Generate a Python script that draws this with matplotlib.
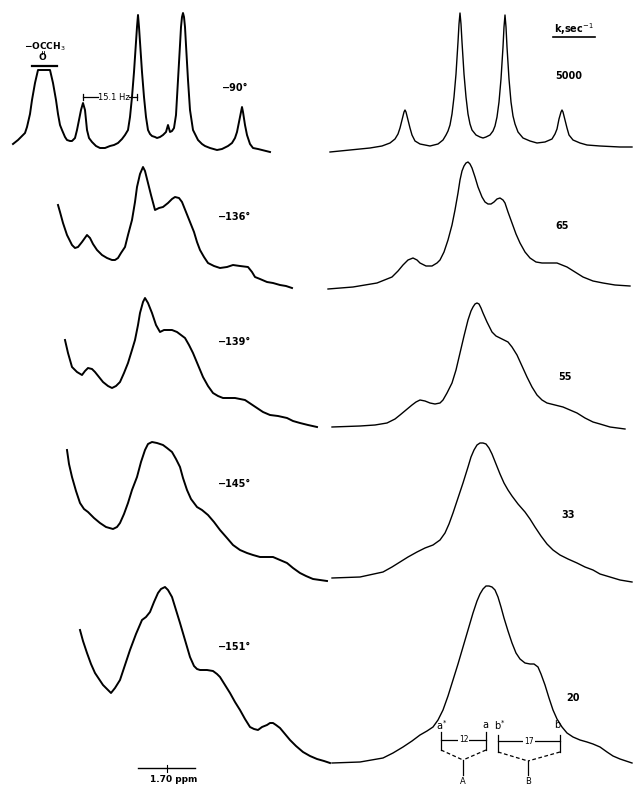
import matplotlib
matplotlib.use('Agg')
import matplotlib.pyplot as plt

# row labels: observed temperatures (left) and fitted rate constants (right)
temps = ['−90°', '−136°', '−139°', '−145°', '−151°']
rates = ['5000', '65', '55', '33', '20']

# observed spectra, left column: x position and height above trace baseline
obs90_x = [13, 18, 22, 25, 27, 30, 32, 35, 38, 50, 53, 56, 58, 60, 62, 65, 67, 70, 72, 75,
           77, 79, 81, 83, 85, 86, 87, 89, 92, 96, 100, 105, 110, 114, 118, 122, 125, 128, 130, 132,
           134, 136, 137, 138, 139, 140, 142, 144, 146, 148, 150, 152, 155, 157, 160, 163, 166, 168, 170, 172,
           174, 176, 178, 180, 181, 182, 183, 184, 185, 186, 188, 190, 193, 196, 198, 202, 205, 210, 217, 222,
           228, 232, 235, 237, 239, 241, 242, 243, 245, 247, 250, 253, 258, 262, 266, 270]
obs90_h = [8, 12, 16, 19, 25, 38, 52, 69, 82, 82, 69, 52, 38, 27, 22, 15, 12, 11, 11, 14,
           22, 32, 42, 49, 42, 32, 22, 14, 10, 6, 4, 4, 6, 7, 9, 13, 17, 22, 35, 55,
           80, 110, 125, 137, 125, 110, 80, 55, 35, 22, 18, 16, 15, 14, 15, 17, 20, 27, 20, 21,
           24, 37, 72, 107, 125, 135, 139, 135, 125, 107, 72, 42, 22, 16, 12, 8, 6, 4, 2, 3,
           6, 9, 14, 20, 30, 40, 45, 40, 27, 17, 8, 4, 3, 2, 1, 0]

obs136_x = [58, 60, 63, 67, 72, 75, 78, 82, 87, 90, 93, 97, 102, 107, 112, 115, 118, 121, 125, 128,
            132, 135, 137, 140, 143, 145, 148, 151, 155, 159, 163, 168, 172, 175, 179, 182, 186, 190, 194, 197,
            200, 204, 208, 214, 220, 227, 233, 240, 248, 252, 255, 260, 267, 273, 280, 286, 292]
obs136_h = [85, 78, 67, 55, 45, 42, 43, 48, 55, 52, 46, 40, 35, 32, 30, 30, 32, 37, 43, 55,
            70, 88, 103, 116, 123, 119, 107, 95, 80, 82, 83, 87, 91, 93, 92, 88, 78, 68, 58, 48,
            40, 33, 27, 24, 22, 23, 25, 24, 23, 18, 13, 11, 8, 7, 5, 4, 2]

obs139_x = [65, 68, 72, 77, 82, 85, 88, 92, 95, 99, 103, 108, 112, 116, 120, 124, 128, 132, 135, 138,
            140, 143, 145, 148, 152, 156, 160, 164, 168, 172, 177, 181, 185, 189, 193, 198, 203, 208, 213, 218,
            223, 229, 235, 240, 245, 251, 257, 263, 270, 278, 287, 293, 300, 308, 317]
obs139_h = [90, 77, 63, 58, 55, 59, 62, 61, 58, 53, 48, 44, 42, 44, 48, 57, 67, 80, 90, 105,
            117, 128, 132, 127, 117, 105, 98, 100, 100, 100, 98, 95, 92, 85, 77, 65, 53, 44, 37, 34,
            32, 32, 32, 31, 30, 26, 22, 18, 15, 14, 12, 9, 7, 5, 3]

obs145_x = [67, 69, 72, 76, 80, 84, 88, 94, 100, 106, 113, 117, 120, 124, 128, 132, 137, 141, 145, 148,
            152, 157, 163, 167, 172, 176, 180, 183, 187, 191, 197, 202, 208, 214, 220, 227, 233, 240, 247, 253,
            260, 267, 273, 280, 287, 293, 300, 306, 313, 320, 327]
obs145_h = [132, 118, 105, 91, 79, 73, 70, 64, 59, 55, 53, 55, 59, 68, 79, 92, 105, 120, 132, 138,
            140, 139, 137, 134, 130, 123, 115, 104, 92, 83, 75, 72, 67, 60, 52, 44, 37, 32, 29, 27,
            25, 25, 25, 22, 19, 14, 9, 6, 3, 2, 1]

obs151_x = [80, 83, 87, 91, 95, 99, 103, 107, 111, 115, 120, 125, 130, 136, 142, 146, 150, 154, 158, 161,
            165, 168, 172, 176, 180, 185, 190, 194, 197, 200, 203, 207, 213, 217, 220, 225, 230, 235, 240, 245,
            250, 254, 258, 262, 267, 270, 273, 276, 280, 285, 290, 296, 303, 310, 317, 324, 330]
obs151_h = [135, 124, 112, 101, 92, 86, 80, 76, 72, 77, 85, 100, 115, 131, 145, 148, 153, 163, 172, 176,
            178, 175, 168, 155, 142, 125, 108, 99, 96, 95, 95, 95, 94, 91, 88, 80, 72, 63, 55, 46,
            38, 36, 35, 38, 40, 42, 42, 40, 37, 31, 25, 19, 13, 9, 6, 4, 2]

# calculated spectra, right column
k5000_x = [330, 350, 370, 382, 390, 395, 398, 400, 402, 404, 405, 406, 408, 410, 412, 415, 420,
           430, 438, 443, 446, 448, 450, 452, 454, 456, 458, 459, 460, 461, 462, 464, 466, 468,
           470, 472, 476, 480, 483, 486, 490, 493, 495, 497, 499, 501, 503, 504, 505, 506, 507,
           509, 511, 513, 515, 518, 523, 530, 537, 545, 552, 555, 557, 559, 561, 562, 563, 565,
           567, 569, 573, 580, 587, 600, 620, 632]
k5000_h = [0, 2, 4, 6, 9, 13, 18, 24, 32, 40, 42, 40, 32, 24, 17, 11, 8,
           6, 8, 12, 17, 21, 27, 38, 55, 78, 110, 128, 139, 128, 110, 78, 55, 38,
           28, 22, 17, 15, 14, 15, 17, 21, 26, 35, 50, 73, 105, 125, 137, 125, 105,
           73, 50, 36, 28, 20, 14, 11, 9, 10, 13, 18, 23, 33, 40, 42, 40, 32,
           24, 17, 12, 9, 7, 6, 5, 5]

k65_x = [328, 353, 377, 392, 398, 403, 408, 413, 417, 420, 426, 432, 437, 440, 444, 448, 452,
         455, 458, 460, 462, 464, 466, 468, 470, 472, 475, 478, 482, 485, 488, 491, 494, 497,
         500, 503, 505, 508, 512, 516, 520, 525, 530, 536, 542, 550, 557, 562, 567, 575, 583,
         593, 603, 615, 630]
k65_h = [1, 3, 7, 13, 19, 25, 30, 32, 30, 27, 24, 24, 27, 30, 38, 50, 65,
         80, 97, 110, 119, 124, 127, 128, 126, 122, 113, 103, 93, 88, 86, 86, 88, 91,
         92, 90, 87, 78, 67, 56, 47, 38, 32, 28, 27, 27, 27, 25, 23, 18, 13,
         9, 7, 5, 4]

k55_x = [332, 360, 375, 387, 395, 400, 406, 412, 416, 420, 425, 430, 435, 440, 443, 447, 452,
         456, 460, 464, 468, 471, 473, 475, 477, 479, 481, 483, 487, 492, 496, 500, 504, 508,
         512, 517, 522, 527, 532, 537, 542, 547, 555, 563, 570, 577, 585, 593, 600, 610, 625]
k55_h = [3, 4, 5, 7, 11, 15, 20, 25, 28, 30, 29, 27, 26, 27, 30, 37, 47,
         60, 77, 94, 110, 119, 123, 126, 127, 126, 122, 117, 108, 98, 94, 92, 90, 88,
         83, 75, 64, 53, 43, 35, 30, 27, 25, 23, 20, 17, 12, 8, 6, 3, 1]

k33_x = [332, 360, 383, 392, 400, 408, 417, 425, 433, 440, 445, 449, 453, 458, 463, 468, 471,
         474, 477, 480, 483, 486, 489, 492, 496, 500, 504, 508, 512, 518, 525, 530, 535, 541,
         547, 553, 560, 568, 577, 585, 593, 600, 610, 620, 632]
k33_h = [4, 5, 10, 15, 20, 25, 30, 34, 37, 42, 49, 58, 69, 84, 99, 115, 125,
         132, 137, 139, 139, 138, 134, 128, 118, 108, 99, 92, 86, 78, 70, 63, 55, 46,
         38, 32, 27, 23, 19, 15, 12, 8, 5, 2, 0]

k20_x = [332, 360, 383, 393, 403, 412, 420, 427, 433, 438, 443, 448, 453, 458, 463, 468, 473,
         477, 480, 483, 486, 489, 492, 495, 498, 501, 504, 508, 512, 516, 520, 525, 530, 534,
         538, 541, 545, 549, 553, 557, 562, 567, 573, 580, 587, 593, 600, 607, 613, 620, 632]
k20_h = [2, 3, 7, 12, 18, 24, 30, 34, 38, 45, 55, 69, 85, 101, 118, 135, 152,
         164, 171, 176, 179, 179, 178, 175, 168, 158, 147, 134, 122, 112, 106, 102, 101, 101,
         98, 91, 80, 67, 55, 46, 38, 32, 28, 25, 23, 21, 18, 13, 9, 6, 2]

obs = [(obs90_x, obs90_h), (obs136_x, obs136_h), (obs139_x, obs139_h),
       (obs145_x, obs145_h), (obs151_x, obs151_h)]
calc = [(k5000_x, k5000_h), (k65_x, k65_h), (k55_x, k55_h),
        (k33_x, k33_h), (k20_x, k20_h)]

# layout
row_base = [635, 497, 357, 205, 22]
temp_dy = [64, 73, 88, 98, 118]
rate_pos = [(569, 76), (562, 64), (565, 53), (568, 67), (573, 67)]

fig = plt.figure(figsize=(6.33, 7.87), dpi=100)
ax = fig.add_axes([0, 0, 1, 1])
ax.set_xlim(0, 633)
ax.set_ylim(0, 787)
ax.axis('off')

bold = dict(fontsize=7, fontweight='bold', color='black', ha='center', va='center')

for i in range(5):
    b = row_base[i]
    x, h = obs[i]
    ax.plot(x, [b + v for v in h], color='black', lw=1.4, solid_joinstyle='round')
    ax.text(235, b + temp_dy[i], temps[i], **bold)
    x, h = calc[i]
    ax.plot(x, [b + v for v in h], color='black', lw=1.0, solid_joinstyle='round')
    ax.text(rate_pos[i][0], b + rate_pos[i][1], rates[i], **bold)

# header of the right column
ax.text(574, 758, 'k,sec$^{-1}$', **bold)
ax.plot([553, 595], [750, 750], color='black', lw=1.2)

# acetate label over the truncated peak
ax.text(45, 740, '−OCCH$_3$', fontsize=6.5, fontweight='bold', ha='center', va='center')
ax.plot([41.5, 41.5], [733, 736], color='black', lw=0.6)
ax.plot([43.5, 43.5], [733, 736], color='black', lw=0.6)
ax.text(42.5, 729.5, 'O', fontsize=6.5, fontweight='bold', ha='center', va='center')
ax.plot([32, 57], [721, 721], color='black', lw=1.6)

# coupling bracket
ax.plot([83, 98], [690, 690], color='black', lw=0.9)
ax.plot([129, 137], [690, 690], color='black', lw=0.9)
ax.plot([83, 83], [687, 693], color='black', lw=0.9)
ax.plot([137, 137], [687, 693], color='black', lw=0.9)
ax.text(114, 690, '15.1 Hz', fontsize=6, ha='center', va='center')

# scale bar
ax.plot([138, 195], [19, 19], color='black', lw=1.0)
ax.plot([167, 167], [15.5, 22.5], color='black', lw=0.8)
ax.text(174, 7, '1.70 ppm', fontsize=6.5, fontweight='bold', ha='center', va='center')

# exchange scheme under the last calculated spectrum
small = dict(fontsize=7, ha='center', va='center')
ax.text(442, 62, 'a$^{*}$', **small)
ax.text(485, 62, 'a', **small)
ax.text(500, 62, 'b$^{*}$', **small)
ax.text(557, 62, 'b', **small)
for xl, xr, ytop, ybar, ybot, xm, ym, lab in [(441, 486, 55, 47, 37, 463, 27, '12'),
                                              (498, 560, 52, 46, 35, 528, 26, '17')]:
    ax.plot([xl, xl], [ytop, ybot], color='black', lw=0.9)
    ax.plot([xr, xr], [ytop, ybot], color='black', lw=0.9)
    ax.plot([xl, xr], [ybar, ybar], color='black', lw=0.9)
    ax.text((xl + xr) / 2, ybar, lab, fontsize=5.5, ha='center', va='center',
            bbox=dict(facecolor='white', edgecolor='none', pad=0.6))
    ax.plot([xl, xm], [ybot, ym], color='black', lw=0.9, ls=(0, (3, 2)))
    ax.plot([xr, xm], [ybot, ym], color='black', lw=0.9, ls=(0, (3, 2)))
    ax.plot([xm, xm], [ym, 12], color='black', lw=0.9)
ax.text(463, 5, 'A', fontsize=6, ha='center', va='center')
ax.text(528, 5, 'B', fontsize=6, ha='center', va='center')

fig.savefig('out.png', dpi=100, facecolor='white')
